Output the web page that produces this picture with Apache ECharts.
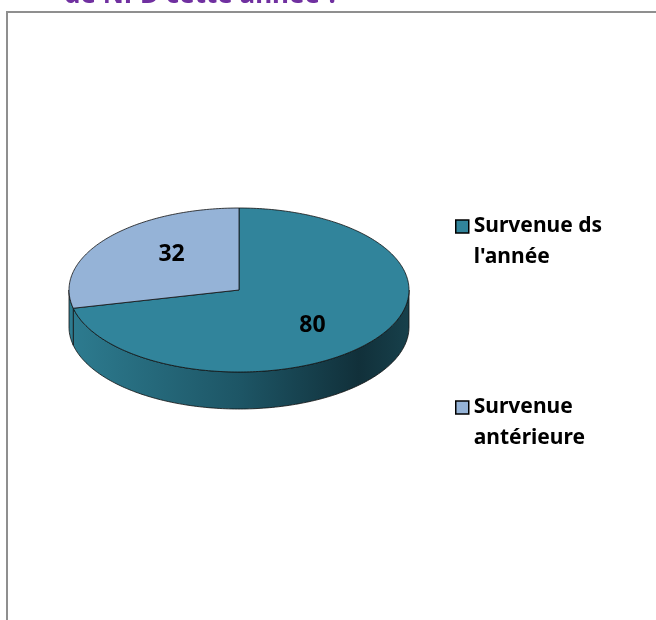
<!DOCTYPE html>
<html>
<head>
<meta charset="utf-8">
<script src="https://cdn.jsdelivr.net/npm/echarts@6/dist/echarts.min.js"></script>
<style>
  html, body { margin: 0; padding: 0; background: #fff; }
  #chart { width: 656px; height: 620px; }
</style>
</head>
<body>
<div id="chart"></div>
<script>
// categories / values
var categories = ["Survenue ds l'année", 'Survenue antérieure'];
var legendLabels = ["Survenue ds\nl'année", 'Survenue\nantérieure'];
var values = [80, 32];
var colors = ['#31849b', '#95b3d7'];
var sideColors = [['#2d7b8f', '#1d5565', '#11303a', '#17404b'], ['#2d7b8f', '#2d7b8f', '#2d7b8f', '#2d7b8f']];

// geometrie du camembert 3D
var cx = 239, cy = 290, rx = 170, ry = 82, depth = 37;

var total = values.reduce(function (a, b) { return a + b; }, 0);

// angles (degres, sens horaire a partir de 3h) - premier secteur a 12h
function sliceAngles(i) {
	var start = -90;
	for (var k = 0; k < i; k++) start += values[k] / total * 360;
	return [start, start + values[i] / total * 360];
}
function pt(deg, dy) {
	var a = deg * Math.PI / 180;
	return [cx + rx * Math.cos(a), cy + ry * Math.sin(a) + (dy || 0)];
}
function arcPts(a1, a2, dy) {
	var pts = [];
	var n = Math.max(2, Math.ceil(Math.abs(a2 - a1)));
	for (var j = 0; j <= n; j++) pts.push(pt(a1 + (a2 - a1) * j / n, dy));
	return pts;
}

function renderSlice(params, api) {
	var i = params.seriesIndex;
	var ang = sliceAngles(i);
	var children = [];
	// paroi avant visible (angles entre 0 et 180)
	for (var off = -360; off <= 360; off += 360) {
		var a = Math.max(ang[0] + off, 0), b = Math.min(ang[1] + off, 180);
		if (b > a) {
			var top = arcPts(a, b, 0);
			var bot = arcPts(b, a, depth);
			var sc = sideColors[i];
			children.push({
				type: 'polygon',
				z2: 1,
				shape: { points: top.concat(bot) },
				style: {
					fill: new echarts.graphic.LinearGradient(0, 0, 1, 0, [
						{ offset: 0, color: sc[0] },
						{ offset: 0.5, color: sc[1] },
						{ offset: 0.85, color: sc[2] },
						{ offset: 1, color: sc[3] }
					]),
					stroke: '#111',
					lineWidth: 0.8
				}
			});
		}
	}
	// dessus
	var ptsTop = [[cx, cy]].concat(arcPts(ang[0], ang[1], 0));
	children.push({
		type: 'polygon',
		z2: 10,
		shape: { points: ptsTop },
		style: { fill: colors[i], stroke: '#111', lineWidth: 0.8 }
	});
	// etiquette
	var mid = (ang[0] + ang[1]) / 2 * Math.PI / 180;
	children.push({
		type: 'text',
		z2: 20,
		x: cx + rx * 0.53 * Math.cos(mid) + 3,
		y: cy + ry * 0.7 * Math.sin(mid),
		style: {
			text: String(values[i]),
			align: 'center',
			verticalAlign: 'middle',
			fontFamily: 'Noto Sans',
			fontWeight: 'bold',
			fontSize: 23,
			fill: '#000'
		}
	});
	return { type: 'group', children: children };
}

var series = categories.map(function (name, i) {
	return {
		type: 'custom',
		name: name,
		coordinateSystem: 'none',
		itemStyle: { color: colors[i] },
		data: [[values[i]]],
		renderItem: renderSlice,
		silent: true,
		animation: false
	};
});

function makeLegend(i, top) {
	return {
		data: [categories[i]],
		left: 455,
		top: top,
		padding: 0,
		icon: 'rect',
		itemWidth: 13,
		itemHeight: 13,
		itemGap: 0,
		selectedMode: false,
		itemStyle: { borderColor: '#000', borderWidth: 1.5 },
		// ligne vide en tete : la 1re ligne du texte s'aligne sur le carre
		formatter: function () { return ' \n' + legendLabels[i]; },
		textStyle: {
			fontFamily: 'Noto Sans',
			fontWeight: 'bold',
			fontSize: 21,
			lineHeight: 31,
			color: '#000'
		}
	};
}

var chart = echarts.init(document.getElementById('chart'));
chart.setOption({
	animation: false,
	legend: [makeLegend(0, 180), makeLegend(1, 361)],
	graphic: [
		{ type: 'line', shape: { x1: 6, y1: 12, x2: 656, y2: 12 }, style: { stroke: '#8f8f8f', lineWidth: 2 } },
		{ type: 'line', shape: { x1: 7, y1: 12, x2: 7, y2: 620 }, style: { stroke: '#8f8f8f', lineWidth: 2 } },
		{
			type: 'text', x: 64, y: 9,
			style: { text: 'de NPD cette année ?', fontFamily: 'Noto Sans', fontSize: 26, fontWeight: 'bold', fill: '#7030a0', verticalAlign: 'bottom' }
		}
	],
	series: series
});
</script>
</body>
</html>
